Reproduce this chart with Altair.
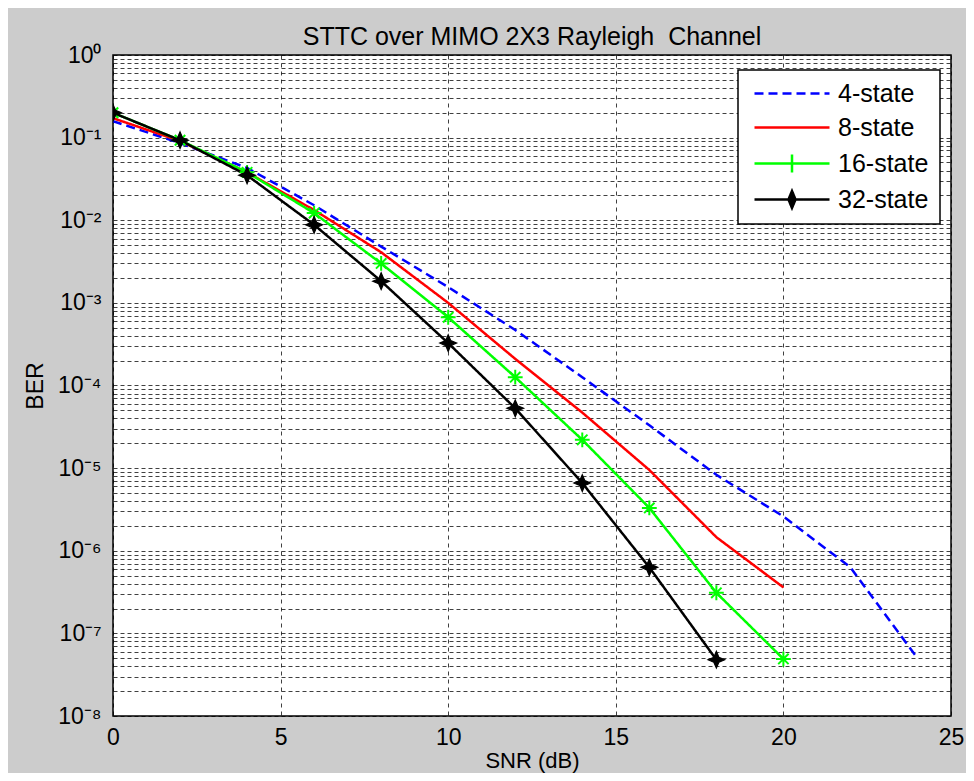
import altair as alt
import pandas as pd

# ---- data ----
series_names = ["4-state", "8-state", "16-state", "32-state"]
series_colors = ["#0000ff", "#ff0000", "#00ff00", "#000000"]

snr_4 = [0, 2, 4, 6, 8, 10, 12, 14, 16, 18, 20, 22, 24]
ber_4 = [0.158, 0.086, 0.043, 0.0152, 4.8e-3, 1.55e-3, 4.7e-4, 1.26e-4, 3.3e-5, 8.3e-6, 2.6e-6, 6.3e-7, 5.0e-8]

snr_8 = [0, 2, 4, 6, 8, 10, 12, 14, 16, 18, 20]
ber_8 = [0.172, 0.091, 0.038, 0.0133, 4.1e-3, 1.0e-3, 2.1e-4, 4.7e-5, 9.5e-6, 1.46e-6, 3.6e-7]

snr_16 = [0, 2, 4, 6, 8, 10, 12, 14, 16, 18, 20]
ber_16 = [0.2, 0.093, 0.038, 0.0122, 3.0e-3, 6.7e-4, 1.26e-4, 2.2e-5, 3.3e-6, 3.1e-7, 4.9e-8]

snr_32 = [0, 2, 4, 6, 8, 10, 12, 14, 16, 18]
ber_32 = [0.2, 0.093, 0.035, 0.0088, 1.83e-3, 3.26e-4, 5.3e-5, 6.6e-6, 6.3e-7, 4.8e-8]

x_ticks = [0, 5, 10, 15, 20, 25]
decades = list(range(-8, 1))
y_ticks = [10.0 ** e for e in decades] + [m * 10.0 ** e for e in range(-8, 0) for m in range(2, 10)]

rows = []
for name, xs, ys in [("4-state", snr_4, ber_4), ("8-state", snr_8, ber_8),
                     ("16-state", snr_16, ber_16), ("32-state", snr_32, ber_32)]:
    for xv, yv in zip(xs, ys):
        rows.append({"snr": xv, "ber": yv, "series": name})
df = pd.DataFrame(rows)

FONT = "Liberation Sans"

xenc = alt.X("snr:Q",
             scale=alt.Scale(domain=[0, 25], nice=False, zero=False),
             axis=alt.Axis(values=x_ticks, title="SNR (dB)", grid=True,
                           gridDash=[4, 4], labelPadding=10, labelFlush=False,
                           titleY=34, titleFontSize=22))
sup = "['⁰','⁻¹','⁻²','⁻³','⁻⁴','⁻⁵','⁻⁶','⁻⁷','⁻⁸']"
lexpr = ("abs(log(datum.value)/LN10 - round(log(datum.value)/LN10)) < 0.001 ? "
         "'10' + " + sup + "[-round(log(datum.value)/LN10)] : ''")
yenc = alt.Y("ber:Q",
             scale=alt.Scale(type="log", domain=[1e-8, 1], nice=False),
             axis=alt.Axis(values=y_ticks, labelExpr=lexpr, title="BER", grid=True,
                           gridDash=[4, 3], labelOverlap=False, labelPadding=12,
                           titlePadding=10))

color_scale = alt.Scale(domain=series_names, range=series_colors)

lines = alt.Chart(df).mark_line(clip=True).encode(
    x=xenc, y=yenc,
    color=alt.Color("series:N", scale=color_scale, title=None),
    strokeDash=alt.StrokeDash("series:N",
                              scale=alt.Scale(domain=series_names,
                                              range=[[9, 5], [1, 0], [1, 0], [1, 0]]),
                              title=None),
    strokeWidth=alt.StrokeWidth("series:N",
                                scale=alt.Scale(domain=series_names, range=[2.5, 2.5, 2.5, 2.2]),
                                title=None),
)

asterisk = "M-1,0L1,0M0,-1L0,1M-0.7,-0.7L0.7,0.7M-0.7,0.7L0.7,-0.7"
star = "M0,-1L0.3,-0.3L1,0L0.3,0.3L0,1L-0.3,0.3L-1,0L-0.3,-0.3Z"

m16 = alt.Chart(df[df.series == "16-state"]).mark_point(
    shape=asterisk, filled=False, size=220, strokeWidth=2, color="#00ff00", opacity=1, clip=True
).encode(x="snr:Q", y="ber:Q")

m32 = alt.Chart(df[df.series == "32-state"]).mark_point(
    shape=star, filled=True, size=280, color="#000000", stroke="#000000", strokeWidth=1.2,
    opacity=1, clip=True
).encode(x="snr:Q", y="ber:Q")

# legend symbols: line sample + marker, in units of r (symbol size 100 -> r = 5 px)
leg_paths = [
    "M-1.4,0H13.6",
    "M-1.4,0H13.6",
    "M-1.4,0H13.6M6.1,-1.8V1.8",
    "M-1.4,0H13.6M6.1,-1.7L6.8,0L6.1,1.7L5.4,0ZM6.1,-1.1L6.45,0L6.1,1.1L5.75,0ZM6.1,-1.7V1.7",
]
leg_df = df.groupby("series", as_index=False).first()
leg = alt.Chart(leg_df).mark_point(filled=False, size=0).encode(
    x="snr:Q", y="ber:Q",
    color=alt.Color("series:N", scale=color_scale, title=None),
    shape=alt.Shape("series:N", scale=alt.Scale(domain=series_names, range=leg_paths),
                    title=None),
)

chart = alt.layer(lines, m16, m32, leg).properties(
    width=838, height=661,
    title=alt.TitleParams("STTC over MIMO 2X3 Rayleigh\u00a0 Channel", font=FONT, fontSize=25,
                          fontWeight="normal", color="black", anchor="middle", offset=0,
                          dy=6, frame="group"),
    autosize=alt.AutoSizeParams(type="none"),
    padding={"left": 105, "top": 47, "right": 15, "bottom": 57},
).configure(background="#cccccc").configure_view(
    fill="white", stroke="black", strokeWidth=1.5
).configure_axis(
    domain=False, ticks=False, labelFont=FONT, labelFontSize=23, labelColor="black",
    titleFont=FONT, titleFontSize=23, titleFontWeight="normal", titleColor="black",
    gridColor="black", gridOpacity=0.75, gridWidth=1,
).configure_legend(
    orient="none", legendX=625, legendY=15,
    fillColor="white", strokeColor="black", strokeWidth=1.5, padding=11,
    labelFont=FONT, labelFontSize=25, labelColor="black",
    labelOffset=64, symbolSize=100, symbolStrokeWidth=2.5,
    symbolOpacity=1, rowPadding=8, cornerRadius=0,
)

chart.save("out.html", embed_options={"renderer": "svg", "actions": False})
